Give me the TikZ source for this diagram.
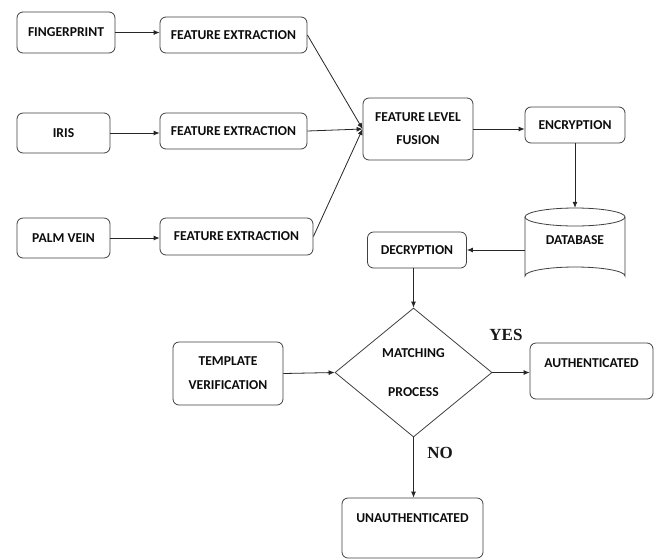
\documentclass[tikz,border=0pt]{standalone}
\usepackage{fontspec}
\setmainfont{Carlito}
\newfontfamily\timesf{Liberation Serif}
\usetikzlibrary{shapes.geometric,arrows.meta}
\tikzset{
  box/.style={draw=black!75, line width=0.8pt, rounded corners=6pt, fill=white,
    font=\fontsize{13.6}{16}\selectfont\bfseries, text=black!95, align=center, inner sep=0pt},
  conn/.style={draw=black!85, line width=0.8pt, -{Latex[length=6pt,width=5pt]}},
  yn/.style={font=\timesf\fontsize{17}{20}\selectfont\bfseries, text=black!90, inner sep=0pt},
  toplabel/.style={font=\fontsize{13.6}{16}\selectfont\bfseries, text=black!95, inner sep=0pt}
}
\begin{document}
\begin{tikzpicture}[x=1pt,y=-1pt]
\useasboundingbox[fill=white] (0,0) rectangle (658,558);
% left column
\node[box, minimum width=98pt, minimum height=41pt] (fp) at (66,32.5) {FINGERPRINT};
\node[box, minimum width=93pt, minimum height=40pt] (iris) at (63.5,133) {IRIS};
\node[box, minimum width=93pt, minimum height=40pt] (palm) at (63.5,238) {PALM VEIN};
% feature extraction
\node[box, minimum width=147pt, minimum height=36pt] (fe1) at (233.5,35) {FEATURE EXTRACTION};
\node[box, minimum width=147pt, minimum height=36pt] (fe2) at (233.5,131) {FEATURE EXTRACTION};
\node[box, minimum width=153pt, minimum height=37pt] (fe3) at (236.5,236.5) {FEATURE EXTRACTION};
% fusion & encryption
\node[box, minimum width=110pt, minimum height=62pt] (flf) at (418,129) {FEATURE LEVEL\\[7pt]FUSION};
\node[box, minimum width=100pt, minimum height=36pt] (enc) at (575,125) {ENCRYPTION};
% database cylinder
\node[minimum width=100pt, minimum height=77pt, inner sep=0pt] (db) at (575,246.5) {};
\draw[draw=black!75, line width=0.8pt, fill=white]
  (525,217) -- (525,276) arc[start angle=180, end angle=0, x radius=50pt, y radius=9pt] -- (625,217);
\draw[draw=black!75, line width=0.8pt] (575,217) ellipse[x radius=50pt, y radius=9pt];
\node[toplabel] (dbt) at (575,240) {DATABASE};
% decryption
\node[box, minimum width=99pt, minimum height=36pt] (dec) at (417,250) {DECRYPTION};
% matching
\node[draw=black!75, line width=0.8pt, diamond, minimum width=157pt, minimum height=129pt,
  inner sep=0pt, fill=white, font=\fontsize{13.6}{16}\selectfont\bfseries, text=black!95, align=center]
  (match) at (413.5,372.5) {MATCHING\\[23pt]PROCESS};
\node[box, minimum width=110pt, minimum height=63pt] (tmpl) at (228,373.5) {TEMPLATE\\[8pt]VERIFICATION};
\node[box, minimum width=123pt, minimum height=56pt,
  label={[toplabel, anchor=center, yshift=-20pt]north:AUTHENTICATED}] (auth) at (591.5,371) {};
\node[box, minimum width=141pt, minimum height=60pt,
  label={[toplabel, anchor=center, yshift=-20pt]north:UNAUTHENTICATED}] (unauth) at (412.5,528) {};
\node[yn] (yes) at (506,335) {YES};
\node[yn] (no) at (440,453) {NO};
% connectors
\draw[conn] (fp.east) -- (fp.east -| fe1.west);
\draw[conn] (iris.east) -- (iris.east -| fe2.west);
\draw[conn] (palm.east) -- (palm.east -| fe3.west);
\draw[conn] (fe1.east) -- (flf.west);
\draw[conn] (fe2.east) -- (flf.west);
\draw[conn] (fe3.east) -- (flf.west);
\draw[conn] (flf.east) -- (flf.east -| enc.west);
\draw[conn] (enc.south) -- (db.north);
\draw[conn] (db.west |- dec.east) -- (dec.east);
\draw[conn] (match.north |- dec.south) -- (match.north);
\draw[conn] (tmpl.east) -- (match.west);
\draw[conn] (match.east) -- (match.east -| auth.west);
\draw[conn] (match.south) -- (match.south |- unauth.north);
\end{tikzpicture}
\end{document}
